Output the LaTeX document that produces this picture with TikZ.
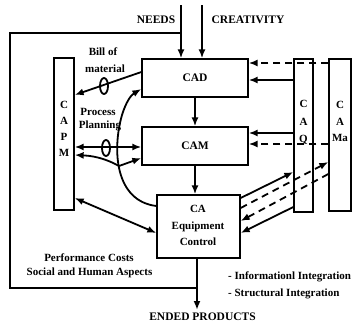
\documentclass[tikz,border=0pt]{standalone}
\usepackage{fontspec}
\setmainfont{Liberation Serif}
\usetikzlibrary{arrows.meta,shapes.geometric}
\begin{document}
\begin{tikzpicture}[x=1pt,y=-1pt,
  box/.style={draw,line width=1.3pt,inner sep=0pt,fill=white},
  lbl/.style={inner sep=0pt,font=\fontsize{11.5}{13}\selectfont\bfseries},
  txt/.style={inner sep=0pt,font=\fontsize{11}{13}\selectfont\bfseries},
  ln/.style={line width=1.8pt},
  dsh/.style={line width=1.8pt,dash pattern=on 7pt off 5pt},
  tip/.style={-{Latex[length=9pt,width=7pt]}},
  both/.style={{Latex[length=9pt,width=7pt]}-{Latex[length=9pt,width=7pt]}},
  oval/.style={draw,line width=1.8pt,ellipse,inner sep=0pt,minimum width=8pt,minimum height=16pt}
]
\useasboundingbox (0,0) rectangle (360,325);
% boxes
\node[box,minimum width=20pt,minimum height=152pt] (capm) at (64,134) {};
\node[box,minimum width=19pt,minimum height=153pt] (caq) at (303.5,135.5) {};
\node[box,minimum width=22pt,minimum height=152pt] (cama) at (340,135) {};
\node[box,minimum width=106pt,minimum height=38pt] (cad) at (195,78) {};
\node[box,minimum width=106pt,minimum height=38pt] (cam) at (195,146) {};
\node[box,minimum width=83pt,minimum height=63pt] (ca) at (198.5,226.5) {};
% box texts
\node[lbl] (tcad) at (cad) {CAD};
\node[lbl] (tcam) at (cam) {CAM};
\node[txt,align=center,font=\fontsize{11}{16.5}\selectfont\bfseries] (tca) at (198,225.5) {CA\\Equipment\\Control};
\node[lbl,align=center,font=\fontsize{11}{16}\selectfont\bfseries] (tcapm) at (64,129) {C\\A\\P\\M};
\node[lbl,align=center,font=\fontsize{11}{17.5}\selectfont\bfseries] (tcaq) at (303.5,122.5) {C\\A\\Q};
\node[lbl,align=center,font=\fontsize{11}{16.5}\selectfont\bfseries] (tcama) at (340,121.5) {C\\A\\Ma};
% top labels
\node[lbl] (needs) at (156,20) {NEEDS};
\node[lbl] (crea) at (248,20) {CREATIVITY};
\node[lbl] (ended) at (202.5,317) {ENDED PRODUCTS};
\node[txt] (bill) at (103,52) {Bill of};
\node[txt] (mat) at (105,69) {material};
\node[txt] (proc) at (98,112) {Process};
\node[txt] (plan) at (100,126) {Planning};
\node[txt] (perf) at (89,258) {Performance Costs};
\node[txt] (soc) at (89.5,273) {Social and Human Aspects};
\node[txt,anchor=west] (info) at (228,277) {- Informationl Integration};
\node[txt,anchor=west] (struc) at (228,294) {- Structural Integration};
% inputs
\coordinate (n1) at (181,5);
\coordinate (n2) at (202,5);
\draw[ln,tip] (n1) -- (n1 |- cad.north);
\draw[ln,tip] (n2) -- (n2 |- cad.north);
% feedback frame and output
\coordinate (fb) at (197,288);
\coordinate (fbl) at (10,288);
\coordinate (ftl) at (10,33);
\coordinate (ft) at (181,33);
\coordinate (ep) at (197,310);
\draw[ln,tip] (fb |- ca.south) -- (ep);
\draw[ln] (fb) -- (fbl) -- (ftl) -- (ft);
% chain
\draw[ln,tip] (cad.south) -- (cam.north);
\draw[ln,tip] (cam.south) -- (cam.south |- ca.north);
% right side
\draw[dsh,tip] (cama.west |- 0,63) -- (cad.east |- 0,63);
\draw[ln,tip] (caq.west |- 0,80) -- (cad.east |- 0,80);
\draw[ln,tip] (caq.west |- 0,133) -- (cam.east |- 0,133);
\draw[dsh,tip] (cama.west |- 0,144) -- (cam.east |- 0,144);
\draw[ln,tip] (ca.east |- 0,198) -- (caq.west |- 0,172);
\draw[dsh,tip] (ca.east |- 0,208) -- (cama.west |- 0,162);
\draw[dsh,tip] (cama.west |- 0,174) -- (ca.east |- 0,221);
\draw[ln,tip] (caq.west |- 0,207) -- (ca.east |- 0,233);
% left side
\draw[ln,tip] (cad.west |- 0,72) -- (capm.east |- 0,95);
\node[oval] (o1) at (104,86) {};
\draw[ln,both] (capm.east |- 0,147) -- (cam.west |- 0,147);
\node[oval] (o2) at (106,148) {};
\draw[ln,tip] (ca.west |- 0,206) .. controls (115,201) and (112,150) .. (122,115) .. controls (126,102) and (131,95) .. (cad.west |- 0,89);
\coordinate (j) at (119,166);
\draw[ln,{Latex[length=9pt,width=7pt]}-] (capm.east |- 0,155) .. controls (98,156) and (110,161) .. (j);
\draw[ln,tip] (j) -- (cam.west |- 0,158);
\draw[ln,both] (capm.east |- 0,198) -- (ca.west |- 0,233);
\end{tikzpicture}
\end{document}
